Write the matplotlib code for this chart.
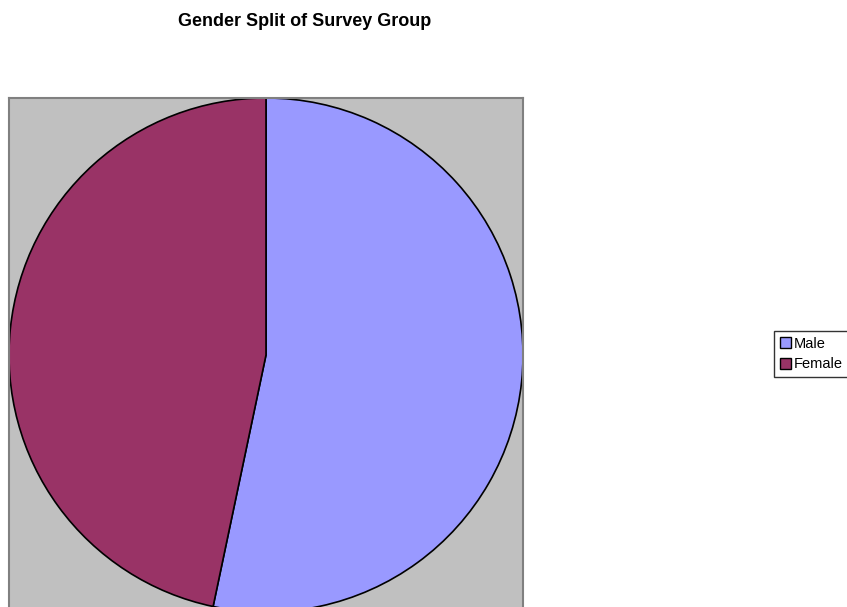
import matplotlib
matplotlib.use("Agg")
import matplotlib.pyplot as plt
from matplotlib.patches import Patch

labels = ["Male", "Female"]
shares = [53.3, 46.7]
colors = ["#9999FF", "#993366"]

W, H = 847, 607
fig = plt.figure(figsize=(W / 100, H / 100), dpi=100)
plt.rcParams["font.family"] = ["Liberation Sans", "DejaVu Sans"]

# plot area in pixel terms
left, top, width = 9, 98, 514
bottom = 0
ax = fig.add_axes([left / W, bottom / H, width / W, (H - top - bottom) / H])

ax.pie(shares, colors=colors, startangle=90, counterclock=False,
       radius=1.0, center=(0, 0),
       wedgeprops=dict(edgecolor="black", linewidth=1.2))
ax.set_frame_on(True)
ax.patch.set_visible(True)
ax.set_facecolor("#C0C0C0")
ax.set_aspect("auto")
scale = width / 2.0
ax.set_xlim(-1, 1)
ax.set_ylim(1 - (H - top - bottom) / scale, 1)
ax.set_xticks([])
ax.set_yticks([])
for name, s in ax.spines.items():
    s.set_visible(name != "bottom")
    s.set_edgecolor("#808080")
    s.set_linewidth(1.5)

fig.text(305 / W, 1 - 21 / H, "Gender Split of Survey Group",
         ha="center", va="center", fontsize=13, fontweight="bold")

handles = [Patch(facecolor=c, edgecolor="black", linewidth=1.0) for c in colors]
leg = fig.legend(handles, labels, loc="upper left",
                 bbox_to_anchor=(774 / W, 1 - 331 / H),
                 fontsize=10.5, frameon=True, fancybox=False,
                 handlelength=0.75, handleheight=0.75, handletextpad=0.2,
                 borderpad=0.4, labelspacing=0.45, borderaxespad=0)
leg.get_frame().set_edgecolor("black")
leg.get_frame().set_linewidth(1.0)

fig.savefig("out.png", dpi=100)
